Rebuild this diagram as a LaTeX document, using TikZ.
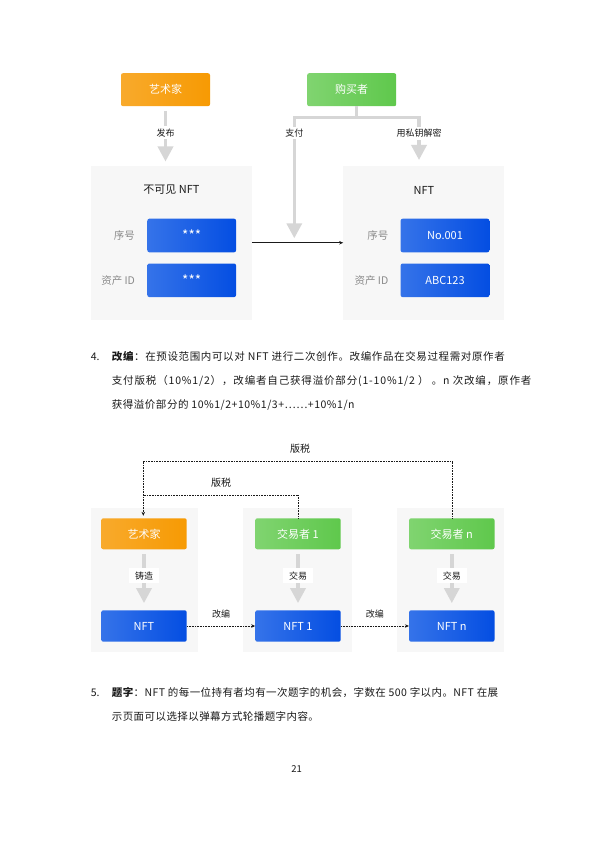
\documentclass[tikz,border=0pt]{standalone}
\usepackage{fontspec}
\setmainfont{Noto Sans CJK SC}
\usetikzlibrary{arrows.meta,calc}
\definecolor{orA}{HTML}{F8AA2C}
\definecolor{orB}{HTML}{F79A03}
\definecolor{grA}{HTML}{80D470}
\definecolor{grB}{HTML}{5FC84C}
\definecolor{blA}{HTML}{3573E9}
\definecolor{blB}{HTML}{044EE2}
\definecolor{panelgray}{HTML}{F7F7F7}
\definecolor{arrgray}{HTML}{D6D6D6}
\definecolor{lblgray}{HTML}{8A8A8A}
\definecolor{txt}{HTML}{1A1A1A}
\newcommand{\stars}{\raisebox{-3pt}{\fontsize{13.5}{14}\selectfont ***}}
\begin{document}
\begin{tikzpicture}[x=1pt,y=-1pt,
  box/.style={rounded corners=2pt, minimum width=89pt, minimum height=33pt, text=white, inner sep=0pt, font=\fontsize{11}{13}\selectfont},
  orangebox/.style={box, left color=orA, right color=orB},
  greenbox/.style={box, left color=grA, right color=grB},
  bluebox/.style={box, left color=blA, right color=blB},
  smallbox/.style={minimum width=85.4pt, minimum height=31pt},
  panelbox/.style={fill=panelgray, inner sep=0pt},
  grayarrow/.style={draw=arrgray, line width=3.4pt, -{Triangle[width=15pt,length=15pt]}},
  grayline/.style={draw=arrgray, line width=3.4pt},
  lbl/.style={fill=white, text=txt, inner sep=2pt, font=\fontsize{9}{11}\selectfont},
  fieldlbl/.style={text=lblgray, anchor=east, inner sep=0pt, font=\fontsize{10.5}{12}\selectfont},
  title/.style={text=txt, inner sep=0pt, font=\fontsize{11}{13}\selectfont},
  dotline/.style={draw=txt, line width=0.6pt, densely dotted},
  dotarrow/.style={dotline, -{Stealth[length=4pt,width=3.5pt]}},
  thinarrow/.style={draw=txt, line width=0.6pt, -{Stealth[length=4pt,width=3.5pt]}},
  para/.style={text=txt, anchor=base west, inner sep=0pt, font=\fontsize{10.5}{12}\selectfont},
  dlbl/.style={text=txt, inner sep=1pt, font=\fontsize{9}{11}\selectfont},
  royal/.style={text=txt, inner sep=1pt, font=\fontsize{10}{12}\selectfont}
]
\useasboundingbox (0,0) rectangle (595,842);
\fill[white] (0,0) rectangle (595,842);

% ---------- top diagram ----------
\node[panelbox, minimum width=161pt, minimum height=153.5pt] (panelL) at (171.2,242.75) {};
\node[panelbox, minimum width=160.7pt, minimum height=153.5pt] (panelR) at (423.7,242.75) {};

\node[orangebox] (artist) at (165.5,89.7) {艺术家};
\node[greenbox] (buyer) at (351.7,89.7) {购买者};

\node[title] (titleL) at (171.5,190) {不可见 NFT};
\node[title] (titleR) at (424,190) {NFT};

\node[bluebox, minimum width=88.7pt, minimum height=33.6pt] (snL) at (191.7,235.5) {\stars};
\node[bluebox, minimum width=88.7pt, minimum height=33.6pt] (idL) at (191.7,280.3) {\stars};
\node[bluebox, minimum width=88.7pt, minimum height=33.6pt] (snR) at (445,235.5) {No.001};
\node[bluebox, minimum width=88.7pt, minimum height=33.6pt] (idR) at (445,280.3) {ABC123};

\node[fieldlbl] (snLl) at ([xshift=-12pt]snL.west) {序号};
\node[fieldlbl] (idLl) at ([xshift=-12pt]idL.west) {资产 ID};
\node[fieldlbl] (snRl) at ([xshift=-12pt]snR.west) {序号};
\node[fieldlbl] (idRl) at ([xshift=-12pt]idR.west) {资产 ID};

\draw[grayarrow] ([yshift=-4.5pt]artist.south) -- ([yshift=4.3pt]artist.south |- panelL.north)
  node[lbl, pos=0.43] (lblPub) {发布};

\coordinate (branch) at (356.5,117.7);
\coordinate (payEnd) at (294.3,238.3);
\coordinate (keyEnd) at (419,160);
\draw[grayline] (buyer.south -| branch) -- (branch);
\draw[grayarrow] (branch) -| (payEnd);
\draw[grayarrow] (branch) -| (keyEnd);
\node[lbl] (lblPay) at (payEnd |- 0,133.3) {支付};
\node[lbl] (lblKey) at (keyEnd |- 0,133.3) {用私钥解密};

\draw[thinarrow] (panelL.east) -- (panelR.west);

% ---------- paragraph 4 ----------
\node[para] (n4) at (90.7,360) {4.};
\node[para] (p4a) at (111.7,360) {\addfontfeature{LetterSpace=6}\textbf{改编}：在预设范围内可以对 NFT 进行二次创作。改编作品在交易过程需对原作者};
\node[para] (p4b) at (111.7,384) {\addfontfeature{LetterSpace=8}支付版税（10\%1/2），改编者自己获得溢价部分(1-10\%1/2 ） 。n 次改编，原作者};
\node[para] (p4c) at (111.7,408) {\addfontfeature{LetterSpace=5}获得溢价部分的 10\%1/2+10\%1/3+……+10\%1/n};

% ---------- bottom diagram ----------
\node[panelbox, minimum width=107pt, minimum height=144.6pt] (pan1) at (144.2,580) {};
\node[panelbox, minimum width=108.4pt, minimum height=144.6pt] (pan2) at (297.5,580) {};
\node[panelbox, minimum width=107.6pt, minimum height=144.6pt] (pan3) at (450.5,580) {};

\node[orangebox, smallbox] (artist2) at (144,533.8) {艺术家};
\node[greenbox, smallbox] (trader1) at (298,533.8) {交易者 1};
\node[greenbox, smallbox] (tradern) at (451.8,533.8) {交易者 n};
\node[bluebox, smallbox, minimum height=31.4pt] (nft0) at (144,626) {NFT};
\node[bluebox, smallbox, minimum height=31.4pt] (nft1) at (298,626) {NFT 1};
\node[bluebox, smallbox, minimum height=31.4pt] (nftn) at (451.8,626) {NFT n};

\foreach \a/\b/\t in {artist2/nft0/铸造, trader1/nft1/交易, tradern/nftn/交易}{
  \draw[grayarrow] ([yshift=-4.7pt]\a.south) -- ([yshift=7pt]\b.north)
    node[lbl, pos=0.44, minimum width=30pt, minimum height=14.5pt, inner sep=0pt] {\t};
}

\draw[dotarrow] (nft0.east) -- (nft1.west) node[dlbl, midway, yshift=11.7pt] (lblA1) {改编};
\draw[dotarrow] (nft1.east) -- (nftn.west) node[dlbl, midway, yshift=11.7pt] (lblA2) {改编};

\coordinate (outerL) at (143.3,461.7);
\coordinate (innerY) at (298,495.7);
\draw[dotline] (tradern.north) |- (outerL);
\draw[dotline] (trader1.north) |- (outerL |- innerY);
\draw[dotarrow] (outerL) -- ([yshift=2.3pt]outerL |- artist2.north);
\node[royal] (lblR1) at (300,449) {版税};
\node[royal] (lblR2) at (221,482.3) {版税};

% ---------- paragraph 5 ----------
\node[para] (n5) at (90.7,696) {5.};
\node[para] (p5a) at (111.7,696) {\addfontfeature{LetterSpace=4}\textbf{题字}：NFT 的每一位持有者均有一次题字的机会，字数在 500 字以内。NFT 在展};
\node[para] (p5b) at (111.7,720) {\addfontfeature{LetterSpace=4}示页面可以选择以弹幕方式轮播题字内容。};

\node[text=txt, inner sep=0pt, font=\fontsize{9.5}{11}\selectfont] (pagenum) at (296.7,769.3) {21};
\end{tikzpicture}
\end{document}
